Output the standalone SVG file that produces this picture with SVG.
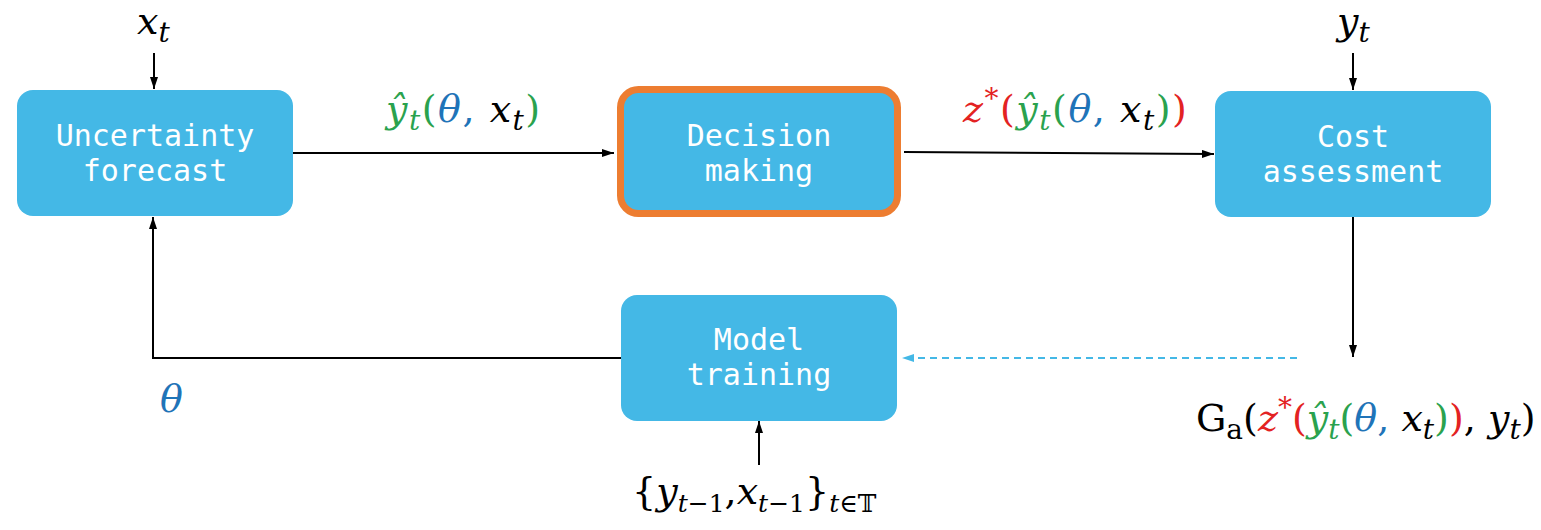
<svg xmlns="http://www.w3.org/2000/svg" width="1541" height="530" viewBox="0 0 1541 530">
  <style>
    .box { fill: #44B8E6; }
    .hl { fill: #44B8E6; stroke: #ED7D31; stroke-width: 7; }
    .lbl { font-family: "DejaVu Sans Mono", "Liberation Mono", monospace; font-size: 30px; fill: #ffffff; text-anchor: middle; }
    .wire { fill: none; stroke: #000000; stroke-width: 2; }
    .dash { fill: none; stroke: #44B8E6; stroke-width: 2; stroke-dasharray: 7 5; }
    .m { font-family: "DejaVu Serif", "Liberation Serif", serif; font-size: 38px; fill: #000000; }
    .sp { letter-spacing: 1.5px; }
    .i { font-style: italic; }
    .s { font-size: 28px; }
    .ss { font-size: 25px; }
    .g { fill: #2AA24E; }
    .b { fill: #1F74B8; }
    .r { fill: #E32222; }
  </style>
  <defs>
    <marker id="ah" viewBox="0 0 12 8" refX="12" refY="4" markerWidth="6" markerHeight="4" orient="auto" markerUnits="strokeWidth">
      <path d="M0,0 L12,4 L0,8 z" fill="#000000"/>
    </marker>
    <marker id="ahb" viewBox="0 0 12 8" refX="12" refY="4" markerWidth="6" markerHeight="4" orient="auto" markerUnits="strokeWidth">
      <path d="M0,0 L12,4 L0,8 z" fill="#44B8E6"/>
    </marker>
  </defs>

  <!-- connectors -->
  <g id="connectors">
    <line class="wire" x1="154" y1="53" x2="154" y2="89" marker-end="url(#ah)"/>
    <line class="wire" x1="1353" y1="53" x2="1353" y2="90" marker-end="url(#ah)"/>
    <line class="wire" x1="293" y1="153" x2="614" y2="153" marker-end="url(#ah)"/>
    <line class="wire" x1="904" y1="152" x2="1214" y2="154" marker-end="url(#ah)"/>
    <line class="wire" x1="1353" y1="217" x2="1353" y2="357" marker-end="url(#ah)"/>
    <line class="dash" x1="1297" y1="358" x2="902" y2="358" marker-end="url(#ahb)"/>
    <polyline class="wire" points="621,358 153,358 153,217" marker-end="url(#ah)"/>
    <line class="wire" x1="759" y1="465" x2="759" y2="421" marker-end="url(#ah)"/>
  </g>

  <!-- nodes -->
  <g id="uncertainty-forecast">
    <rect class="box" x="17" y="90" width="276" height="126" rx="16"/>
    <text class="lbl" x="155" y="146">Uncertainty</text>
    <text class="lbl" x="155" y="181">forecast</text>
  </g>
  <g id="decision-making">
    <rect class="hl" x="620.5" y="89.5" width="277" height="124" rx="18"/>
    <text class="lbl" x="759" y="146">Decision</text>
    <text class="lbl" x="759" y="181">making</text>
  </g>
  <g id="cost-assessment">
    <rect class="box" x="1215" y="91" width="276" height="126" rx="16"/>
    <text class="lbl" x="1353" y="147">Cost</text>
    <text class="lbl" x="1353" y="182">assessment</text>
  </g>
  <g id="model-training">
    <rect class="box" x="621" y="295" width="276" height="126" rx="16"/>
    <text class="lbl" x="759" y="350">Model</text>
    <text class="lbl" x="759" y="385">training</text>
  </g>

  <!-- math labels -->
  <text class="m i" x="137" y="34">x<tspan class="s" dy="8">t</tspan></text>
  <text class="m i" x="1337" y="34">y<tspan class="s" dy="8">t</tspan></text>

  <text class="m sp" x="386" y="122"><tspan class="i g">ŷ</tspan><tspan class="i g s" dy="8">t</tspan><tspan class="g" dy="-8">(</tspan><tspan class="i b">θ</tspan><tspan class="b">,</tspan><tspan class="i"> x</tspan><tspan class="i s" dy="8">t</tspan><tspan class="g" dy="-8">)</tspan></text>

  <text class="m sp" x="963" y="122"><tspan class="i r">z</tspan><tspan class="r s" dy="-14">*</tspan><tspan class="r" dy="14">(</tspan><tspan class="i g">ŷ</tspan><tspan class="i g s" dy="8">t</tspan><tspan class="g" dy="-8">(</tspan><tspan class="i b">θ</tspan><tspan class="b">,</tspan><tspan class="i"> x</tspan><tspan class="i s" dy="8">t</tspan><tspan class="g" dy="-8">)</tspan><tspan class="r">)</tspan></text>

  <text class="m b i" x="160" y="412">θ</text>

  <text class="m" x="1196" y="431">G<tspan class="s" dy="8">a</tspan><tspan dy="-8">(</tspan><tspan class="i r">z</tspan><tspan class="r s" dy="-14">*</tspan><tspan class="r" dy="14">(</tspan><tspan class="i g">ŷ</tspan><tspan class="i g s" dy="8">t</tspan><tspan class="g" dy="-8">(</tspan><tspan class="i b">θ</tspan><tspan class="b">,</tspan><tspan class="i"> x</tspan><tspan class="i s" dy="8">t</tspan><tspan class="g" dy="-8">)</tspan><tspan class="r">)</tspan>,<tspan class="i"> y</tspan><tspan class="i s" dy="8">t</tspan><tspan dy="-8">)</tspan></text>

  <text class="m" x="632" y="504">{<tspan class="i">y</tspan><tspan class="i ss" dy="8">t</tspan><tspan class="ss">−1</tspan><tspan dy="-8">,</tspan><tspan class="i">x</tspan><tspan class="i ss" dy="8">t</tspan><tspan class="ss">−1</tspan><tspan dy="-8">}</tspan><tspan class="i ss" dy="8">t</tspan><tspan class="ss">∈𝕋</tspan></text>
</svg>
